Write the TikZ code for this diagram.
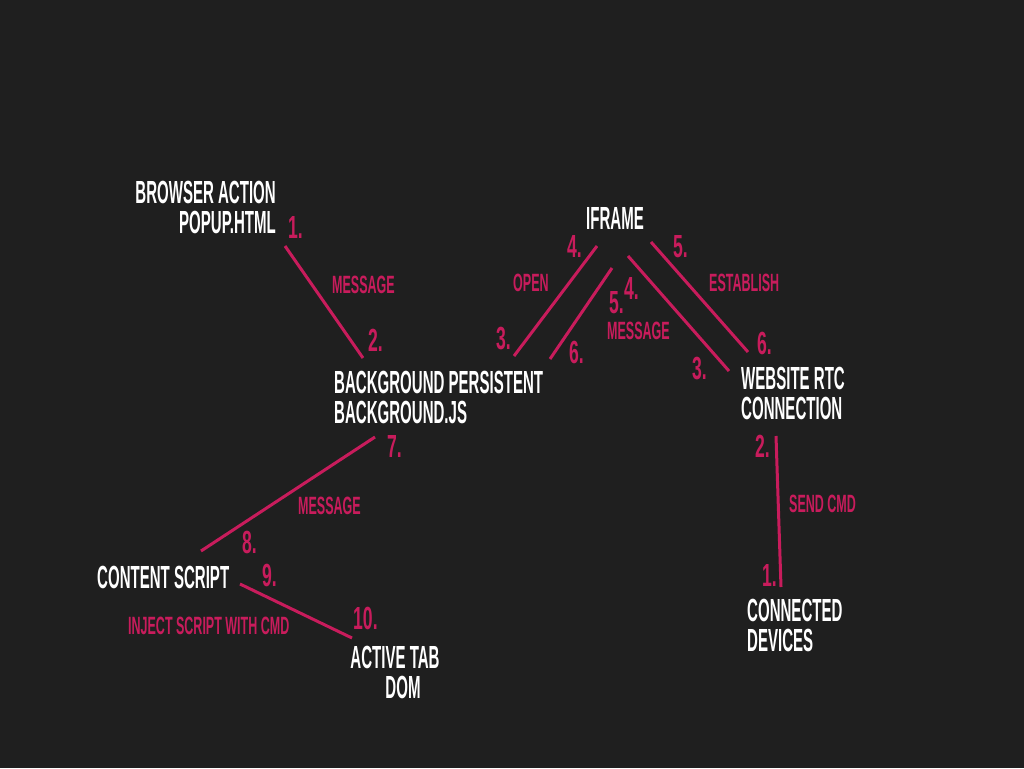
\documentclass[tikz,border=0pt]{standalone}
\usepackage{fontspec}
\setmainfont{Liberation Sans}[FakeStretch=0.47]
\newfontfamily\numfont{Liberation Sans}[FakeStretch=0.55]
\newfontfamily\lblfont{Liberation Sans}[FakeStretch=0.5]
\definecolor{bg}{RGB}{31,31,31}
\definecolor{pink}{RGB}{200,28,92}
\tikzset{
  white/.style={text=white, font=\bfseries\fontsize{32}{30}\selectfont, inner sep=0pt, align=left},
  num/.style={text=pink, font=\numfont\bfseries\fontsize{32}{30}\selectfont, inner sep=0pt, anchor=north west},
  lbl/.style={text=pink, font=\lblfont\bfseries\fontsize{25}{26}\selectfont, inner sep=0pt, anchor=north west},
  link/.style={draw=pink, line width=3pt}
}
\begin{document}
\begin{tikzpicture}[x=1pt,y=-1pt]
\fill[bg] (0,0) rectangle (1024,768);
\useasboundingbox (0,0) rectangle (1024,768);
% white nodes
\node[white, align=right, anchor=north east] (popup) at (276,181) {BROWSER ACTION\\POPUP.HTML};
\node[white, anchor=north] (iframe) at (615,207) {IFRAME};
\node[white, anchor=north west] (bgjs) at (334,371) {BACKGROUND PERSISTENT\\BACKGROUND.JS};
\node[white, anchor=north west] (rtc) at (741,367) {WEBSITE RTC\\CONNECTION};
\node[white, anchor=north west] (dev) at (747,599) {CONNECTED\\DEVICES};
\node[white, anchor=north west] (cs) at (97,566) {CONTENT SCRIPT};
\node[white, align=center, anchor=north] (tab) at (395,646) {ACTIVE TAB\\\hspace*{16pt}DOM};
% line end points
\coordinate (a1) at (285,246); \coordinate (a2) at (363,358);
\coordinate (b1) at (597,246); \coordinate (b2) at (514,356);
\coordinate (c1) at (612,268); \coordinate (c2) at (550,359);
\coordinate (d1) at (628,256); \coordinate (d2) at (729,371);
\coordinate (e1) at (651,242); \coordinate (e2) at (748,352);
\coordinate (f1) at (375,437); \coordinate (f2) at (201,551);
\coordinate (g1) at (240,584); \coordinate (g2) at (352,638);
\coordinate (h1) at (776,436); \coordinate (h2) at (781,587);
\draw[link] (a1) -- (a2);
\draw[link] (b1) -- (b2);
\draw[link] (c1) -- (c2);
\draw[link] (d1) -- (d2);
\draw[link] (e1) -- (e2);
\draw[link] (f1) -- (f2);
\draw[link] (g1) -- (g2);
\draw[link] (h1) -- (h2);
% numbers
\node[num] (n1) at (288,216) {1.};
\node[num] (n2) at (368,329) {2.};
\node[num] (n4a) at (567,235) {4.};
\node[num] (n5a) at (673,235) {5.};
\node[num] (n4b) at (624,277) {4.};
\node[num] (n5b) at (609,291) {5.};
\node[num] (n3a) at (496,327) {3.};
\node[num] (n6a) at (569,341) {6.};
\node[num] (n3b) at (692,357) {3.};
\node[num] (n6b) at (757,332) {6.};
\node[num] (n7) at (387,435) {7.};
\node[num] (n8) at (242,531) {8.};
\node[num] (n9) at (262,564) {9.};
\node[num] (n10) at (353,607) {10.};
\node[num] (r2) at (755,435) {2.};
\node[num] (r1) at (762,564) {1.};
% labels
\node[lbl] (l1) at (332,276) {MESSAGE};
\node[lbl] (l2) at (513,274) {OPEN};
\node[lbl] (l3) at (607,322) {MESSAGE};
\node[lbl] (l4) at (709,274) {ESTABLISH};
\node[lbl] (l5) at (298,497) {MESSAGE};
\node[lbl] (l6) at (789,495) {SEND CMD};
\node[lbl] (l7) at (128,617) {INJECT SCRIPT WITH CMD};
\end{tikzpicture}
\end{document}
